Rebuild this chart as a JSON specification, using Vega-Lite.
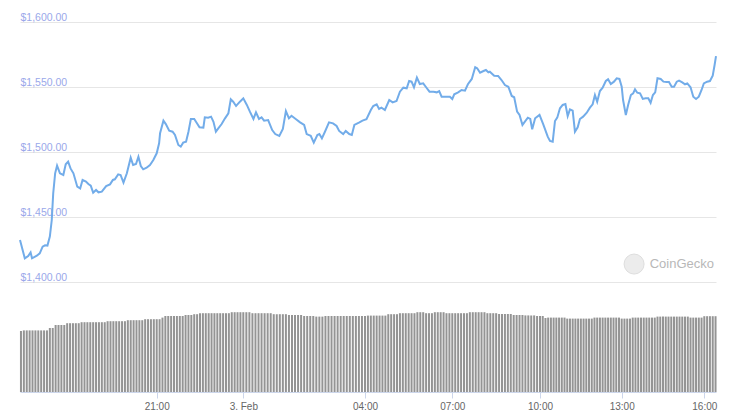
{
  "$schema": "https://vega.github.io/schema/vega-lite/v6.json",
  "width": 696,
  "height": 370,
  "autosize": "none",
  "padding": {"left": 20, "top": 22, "right": 21, "bottom": 27},
  "background": "white",
  "config": {"view": {"stroke": null}, "font": "Liberation Sans"},
  "datasets": {
    "vol": [
      {"t":"2021-02-02T16:18","v":30.5},{"t":"2021-02-02T16:24","v":30.8},{"t":"2021-02-02T16:30","v":30.8},{"t":"2021-02-02T16:36","v":30.8},{"t":"2021-02-02T16:42","v":30.8},{"t":"2021-02-02T16:48","v":30.8},{"t":"2021-02-02T16:54","v":30.8},
      {"t":"2021-02-02T17:00","v":30.8},{"t":"2021-02-02T17:06","v":30.8},{"t":"2021-02-02T17:12","v":30.8},{"t":"2021-02-02T17:18","v":32},{"t":"2021-02-02T17:24","v":32},{"t":"2021-02-02T17:30","v":33.5},{"t":"2021-02-02T17:36","v":33.5},{"t":"2021-02-02T17:42","v":33.5},{"t":"2021-02-02T17:48","v":33.5},{"t":"2021-02-02T17:54","v":34.4},
      {"t":"2021-02-02T18:00","v":34.4},{"t":"2021-02-02T18:06","v":34.4},{"t":"2021-02-02T18:12","v":34.4},{"t":"2021-02-02T18:18","v":34.4},{"t":"2021-02-02T18:24","v":34.9},{"t":"2021-02-02T18:30","v":34.9},{"t":"2021-02-02T18:36","v":34.9},{"t":"2021-02-02T18:42","v":34.9},{"t":"2021-02-02T18:48","v":34.9},{"t":"2021-02-02T18:54","v":34.9},
      {"t":"2021-02-02T19:00","v":34.9},{"t":"2021-02-02T19:06","v":34.9},{"t":"2021-02-02T19:12","v":34.9},{"t":"2021-02-02T19:18","v":35.4},{"t":"2021-02-02T19:24","v":35.4},{"t":"2021-02-02T19:30","v":35.4},{"t":"2021-02-02T19:36","v":35.4},{"t":"2021-02-02T19:42","v":35.4},{"t":"2021-02-02T19:48","v":35.4},{"t":"2021-02-02T19:54","v":35.4},
      {"t":"2021-02-02T20:00","v":35.9},{"t":"2021-02-02T20:06","v":35.9},{"t":"2021-02-02T20:12","v":35.9},{"t":"2021-02-02T20:18","v":35.9},{"t":"2021-02-02T20:24","v":35.9},{"t":"2021-02-02T20:30","v":35.9},{"t":"2021-02-02T20:36","v":36.4},{"t":"2021-02-02T20:42","v":36.4},{"t":"2021-02-02T20:48","v":36.4},{"t":"2021-02-02T20:54","v":36.4},
      {"t":"2021-02-02T21:00","v":36.4},{"t":"2021-02-02T21:06","v":36.4},{"t":"2021-02-02T21:12","v":37.2},{"t":"2021-02-02T21:18","v":38},{"t":"2021-02-02T21:24","v":38},{"t":"2021-02-02T21:30","v":38},{"t":"2021-02-02T21:36","v":38},{"t":"2021-02-02T21:42","v":38},{"t":"2021-02-02T21:48","v":38},{"t":"2021-02-02T21:54","v":38},
      {"t":"2021-02-02T22:00","v":38.5},{"t":"2021-02-02T22:06","v":38.5},{"t":"2021-02-02T22:12","v":38.5},{"t":"2021-02-02T22:18","v":38.9},{"t":"2021-02-02T22:24","v":38.9},{"t":"2021-02-02T22:30","v":39.4},{"t":"2021-02-02T22:36","v":39.4},{"t":"2021-02-02T22:42","v":39.4},{"t":"2021-02-02T22:48","v":39.4},{"t":"2021-02-02T22:54","v":39.4},
      {"t":"2021-02-02T23:00","v":39.4},{"t":"2021-02-02T23:06","v":39.4},{"t":"2021-02-02T23:12","v":39.4},{"t":"2021-02-02T23:18","v":39.4},{"t":"2021-02-02T23:24","v":39.4},{"t":"2021-02-02T23:30","v":39.4},{"t":"2021-02-02T23:36","v":39.9},{"t":"2021-02-02T23:42","v":39.9},{"t":"2021-02-02T23:48","v":39.9},{"t":"2021-02-02T23:54","v":39.9},
      {"t":"2021-02-03T00:00","v":39.9},{"t":"2021-02-03T00:06","v":39.9},{"t":"2021-02-03T00:12","v":39.9},{"t":"2021-02-03T00:18","v":39.4},{"t":"2021-02-03T00:24","v":39.4},{"t":"2021-02-03T00:30","v":39.4},{"t":"2021-02-03T00:36","v":39.4},{"t":"2021-02-03T00:42","v":39.4},{"t":"2021-02-03T00:48","v":39.4},{"t":"2021-02-03T00:54","v":39.4},
      {"t":"2021-02-03T01:00","v":38.9},{"t":"2021-02-03T01:06","v":38.9},{"t":"2021-02-03T01:12","v":38.9},{"t":"2021-02-03T01:18","v":38.9},{"t":"2021-02-03T01:24","v":38.9},{"t":"2021-02-03T01:30","v":38.5},{"t":"2021-02-03T01:36","v":38.5},{"t":"2021-02-03T01:42","v":38.5},{"t":"2021-02-03T01:48","v":38.5},{"t":"2021-02-03T01:54","v":38.5},
      {"t":"2021-02-03T02:00","v":38},{"t":"2021-02-03T02:06","v":38},{"t":"2021-02-03T02:12","v":38},{"t":"2021-02-03T02:18","v":38},{"t":"2021-02-03T02:24","v":37.7},{"t":"2021-02-03T02:30","v":37.7},{"t":"2021-02-03T02:36","v":37.7},{"t":"2021-02-03T02:42","v":38},{"t":"2021-02-03T02:48","v":38},{"t":"2021-02-03T02:54","v":38},
      {"t":"2021-02-03T03:00","v":38},{"t":"2021-02-03T03:06","v":38},{"t":"2021-02-03T03:12","v":38},{"t":"2021-02-03T03:18","v":38},{"t":"2021-02-03T03:24","v":38},{"t":"2021-02-03T03:30","v":38},{"t":"2021-02-03T03:36","v":38},{"t":"2021-02-03T03:42","v":38},{"t":"2021-02-03T03:48","v":38},{"t":"2021-02-03T03:54","v":38},
      {"t":"2021-02-03T04:00","v":38},{"t":"2021-02-03T04:06","v":38.2},{"t":"2021-02-03T04:12","v":38.2},{"t":"2021-02-03T04:18","v":38.2},{"t":"2021-02-03T04:24","v":38.2},{"t":"2021-02-03T04:30","v":38.2},{"t":"2021-02-03T04:36","v":38.2},{"t":"2021-02-03T04:42","v":38.2},{"t":"2021-02-03T04:48","v":38.9},{"t":"2021-02-03T04:54","v":38.9},
      {"t":"2021-02-03T05:00","v":38.9},{"t":"2021-02-03T05:06","v":38.9},{"t":"2021-02-03T05:12","v":39.4},{"t":"2021-02-03T05:18","v":39.4},{"t":"2021-02-03T05:24","v":39.4},{"t":"2021-02-03T05:30","v":39.4},{"t":"2021-02-03T05:36","v":39.4},{"t":"2021-02-03T05:42","v":39.4},{"t":"2021-02-03T05:48","v":39.9},{"t":"2021-02-03T05:54","v":39.9},
      {"t":"2021-02-03T06:00","v":39.9},{"t":"2021-02-03T06:06","v":39.4},{"t":"2021-02-03T06:12","v":39.4},{"t":"2021-02-03T06:18","v":39.4},{"t":"2021-02-03T06:24","v":39.9},{"t":"2021-02-03T06:30","v":39.9},{"t":"2021-02-03T06:36","v":39.9},{"t":"2021-02-03T06:42","v":39.9},{"t":"2021-02-03T06:48","v":39.4},{"t":"2021-02-03T06:54","v":39.4},
      {"t":"2021-02-03T07:00","v":39.4},{"t":"2021-02-03T07:06","v":39.4},{"t":"2021-02-03T07:12","v":39.4},{"t":"2021-02-03T07:18","v":39.4},{"t":"2021-02-03T07:24","v":39.4},{"t":"2021-02-03T07:30","v":39.4},{"t":"2021-02-03T07:36","v":39.9},{"t":"2021-02-03T07:42","v":39.9},{"t":"2021-02-03T07:48","v":39.9},{"t":"2021-02-03T07:54","v":39.9},
      {"t":"2021-02-03T08:00","v":39.9},{"t":"2021-02-03T08:06","v":39.9},{"t":"2021-02-03T08:12","v":39.4},{"t":"2021-02-03T08:18","v":39.4},{"t":"2021-02-03T08:24","v":39.4},{"t":"2021-02-03T08:30","v":39.4},{"t":"2021-02-03T08:36","v":39},{"t":"2021-02-03T08:42","v":39},{"t":"2021-02-03T08:48","v":39},{"t":"2021-02-03T08:54","v":39},
      {"t":"2021-02-03T09:00","v":39},{"t":"2021-02-03T09:06","v":38.5},{"t":"2021-02-03T09:12","v":38.5},{"t":"2021-02-03T09:18","v":38.5},{"t":"2021-02-03T09:24","v":38.5},{"t":"2021-02-03T09:30","v":38.3},{"t":"2021-02-03T09:36","v":38.3},{"t":"2021-02-03T09:42","v":38.3},{"t":"2021-02-03T09:48","v":38.3},{"t":"2021-02-03T09:54","v":38},
      {"t":"2021-02-03T10:00","v":38},{"t":"2021-02-03T10:06","v":38},{"t":"2021-02-03T10:12","v":37},{"t":"2021-02-03T10:18","v":37.2},{"t":"2021-02-03T10:24","v":37.2},{"t":"2021-02-03T10:30","v":37.2},{"t":"2021-02-03T10:36","v":37.2},{"t":"2021-02-03T10:42","v":37.2},{"t":"2021-02-03T10:48","v":37.2},{"t":"2021-02-03T10:54","v":37.2},
      {"t":"2021-02-03T11:00","v":36.7},{"t":"2021-02-03T11:06","v":36.7},{"t":"2021-02-03T11:12","v":36.7},{"t":"2021-02-03T11:18","v":36.7},{"t":"2021-02-03T11:24","v":36.7},{"t":"2021-02-03T11:30","v":36.7},{"t":"2021-02-03T11:36","v":36.7},{"t":"2021-02-03T11:42","v":36.7},{"t":"2021-02-03T11:48","v":36.7},{"t":"2021-02-03T11:54","v":36.7},
      {"t":"2021-02-03T12:00","v":37.2},{"t":"2021-02-03T12:06","v":37.2},{"t":"2021-02-03T12:12","v":37.2},{"t":"2021-02-03T12:18","v":37.2},{"t":"2021-02-03T12:24","v":37.2},{"t":"2021-02-03T12:30","v":37.2},{"t":"2021-02-03T12:36","v":37.2},{"t":"2021-02-03T12:42","v":37.2},{"t":"2021-02-03T12:48","v":37.2},{"t":"2021-02-03T12:54","v":37.2},
      {"t":"2021-02-03T13:00","v":36.7},{"t":"2021-02-03T13:06","v":36.7},{"t":"2021-02-03T13:12","v":36.7},{"t":"2021-02-03T13:18","v":36.7},{"t":"2021-02-03T13:24","v":37.2},{"t":"2021-02-03T13:30","v":37.2},{"t":"2021-02-03T13:36","v":37.2},{"t":"2021-02-03T13:42","v":37.2},{"t":"2021-02-03T13:48","v":37.2},{"t":"2021-02-03T13:54","v":37.2},
      {"t":"2021-02-03T14:00","v":37.2},{"t":"2021-02-03T14:06","v":37.2},{"t":"2021-02-03T14:12","v":37.2},{"t":"2021-02-03T14:18","v":37.7},{"t":"2021-02-03T14:24","v":37.7},{"t":"2021-02-03T14:30","v":37.7},{"t":"2021-02-03T14:36","v":37.7},{"t":"2021-02-03T14:42","v":37.7},{"t":"2021-02-03T14:48","v":37.7},{"t":"2021-02-03T14:54","v":37.7},
      {"t":"2021-02-03T15:00","v":37.7},{"t":"2021-02-03T15:06","v":37.7},{"t":"2021-02-03T15:12","v":37.7},{"t":"2021-02-03T15:18","v":37.7},{"t":"2021-02-03T15:24","v":37.7},{"t":"2021-02-03T15:30","v":37.2},{"t":"2021-02-03T15:36","v":37.2},{"t":"2021-02-03T15:42","v":37.2},{"t":"2021-02-03T15:48","v":37.2},{"t":"2021-02-03T15:54","v":37.2},
      {"t":"2021-02-03T16:00","v":37.9},{"t":"2021-02-03T16:06","v":37.9},{"t":"2021-02-03T16:12","v":37.9},{"t":"2021-02-03T16:18","v":37.9},{"t":"2021-02-03T16:24","v":37.9}
    ],
    "price": [
      {"t":"2021-02-02T16:16","p":1432.3},{"t":"2021-02-02T16:26","p":1418.2},{"t":"2021-02-02T16:33","p":1420.0},{"t":"2021-02-02T16:38","p":1422.8},{"t":"2021-02-02T16:41","p":1418.2},{"t":"2021-02-02T16:51","p":1420.2},{"t":"2021-02-02T16:57","p":1422.0},
      {"t":"2021-02-02T17:03","p":1427.2},{"t":"2021-02-02T17:08","p":1428.2},{"t":"2021-02-02T17:13","p":1428.0},{"t":"2021-02-02T17:18","p":1434.9},{"t":"2021-02-02T17:22","p":1447.7},{"t":"2021-02-02T17:25","p":1468.2},{"t":"2021-02-02T17:29","p":1483.6},{"t":"2021-02-02T17:33","p":1489.5},{"t":"2021-02-02T17:39","p":1483.6},{"t":"2021-02-02T17:46","p":1482.3},{"t":"2021-02-02T17:51","p":1490.5},{"t":"2021-02-02T17:56","p":1492.5},
      {"t":"2021-02-02T18:01","p":1487.4},{"t":"2021-02-02T18:07","p":1483.6},{"t":"2021-02-02T18:15","p":1473.3},{"t":"2021-02-02T18:21","p":1472.0},{"t":"2021-02-02T18:26","p":1478.5},{"t":"2021-02-02T18:33","p":1477.2},{"t":"2021-02-02T18:38","p":1475.4},{"t":"2021-02-02T18:43","p":1474.1},{"t":"2021-02-02T18:48","p":1468.7},{"t":"2021-02-02T18:54","p":1470.8},{"t":"2021-02-02T18:59","p":1469.0},
      {"t":"2021-02-02T19:06","p":1469.5},{"t":"2021-02-02T19:15","p":1473.8},{"t":"2021-02-02T19:23","p":1475.1},{"t":"2021-02-02T19:29","p":1478.5},{"t":"2021-02-02T19:33","p":1479.0},{"t":"2021-02-02T19:40","p":1482.8},{"t":"2021-02-02T19:45","p":1482.3},{"t":"2021-02-02T19:51","p":1476.4},{"t":"2021-02-02T19:58","p":1483.6},
      {"t":"2021-02-02T20:06","p":1495.6},{"t":"2021-02-02T20:11","p":1490.0},{"t":"2021-02-02T20:17","p":1490.8},{"t":"2021-02-02T20:22","p":1496.4},{"t":"2021-02-02T20:27","p":1489.2},{"t":"2021-02-02T20:32","p":1486.7},{"t":"2021-02-02T20:39","p":1487.9},{"t":"2021-02-02T20:46","p":1490.0},{"t":"2021-02-02T20:53","p":1493.8},
      {"t":"2021-02-02T21:00","p":1499.0},{"t":"2021-02-02T21:05","p":1506.7},{"t":"2021-02-02T21:07","p":1514.4},{"t":"2021-02-02T21:14","p":1524.1},{"t":"2021-02-02T21:19","p":1521.5},{"t":"2021-02-02T21:26","p":1516.4},{"t":"2021-02-02T21:33","p":1515.6},{"t":"2021-02-02T21:38","p":1513.1},{"t":"2021-02-02T21:45","p":1505.4},{"t":"2021-02-02T21:50","p":1504.1},{"t":"2021-02-02T21:55","p":1507.2},
      {"t":"2021-02-02T22:01","p":1507.9},{"t":"2021-02-02T22:06","p":1515.6},{"t":"2021-02-02T22:11","p":1525.4},{"t":"2021-02-02T22:18","p":1525.4},{"t":"2021-02-02T22:23","p":1522.5},{"t":"2021-02-02T22:29","p":1519.0},{"t":"2021-02-02T22:37","p":1518.7},{"t":"2021-02-02T22:40","p":1526.7},{"t":"2021-02-02T22:47","p":1526.4},{"t":"2021-02-02T22:53","p":1527.2},{"t":"2021-02-02T22:58","p":1523.3},
      {"t":"2021-02-02T23:03","p":1515.6},{"t":"2021-02-02T23:08","p":1518.2},{"t":"2021-02-02T23:15","p":1521.5},{"t":"2021-02-02T23:22","p":1525.9},{"t":"2021-02-02T23:29","p":1529.8},{"t":"2021-02-02T23:34","p":1540.5},{"t":"2021-02-02T23:39","p":1538.7},{"t":"2021-02-02T23:45","p":1535.4},{"t":"2021-02-02T23:53","p":1538.7},
      {"t":"2021-02-03T00:00","p":1541.3},{"t":"2021-02-03T00:07","p":1536.2},{"t":"2021-02-03T00:13","p":1531.0},{"t":"2021-02-03T00:20","p":1525.4},{"t":"2021-02-03T00:25","p":1530.5},{"t":"2021-02-03T00:31","p":1525.4},{"t":"2021-02-03T00:36","p":1526.7},{"t":"2021-02-03T00:41","p":1524.1},{"t":"2021-02-03T00:49","p":1524.6},{"t":"2021-02-03T00:57","p":1516.9},
      {"t":"2021-02-03T01:03","p":1513.8},{"t":"2021-02-03T01:11","p":1512.3},{"t":"2021-02-03T01:18","p":1517.7},{"t":"2021-02-03T01:24","p":1531.5},{"t":"2021-02-03T01:30","p":1525.9},{"t":"2021-02-03T01:35","p":1527.9},{"t":"2021-02-03T01:44","p":1525.2},{"t":"2021-02-03T01:52","p":1522.8},
      {"t":"2021-02-03T02:00","p":1520.8},{"t":"2021-02-03T02:05","p":1513.8},{"t":"2021-02-03T02:13","p":1512.5},{"t":"2021-02-03T02:19","p":1507.2},{"t":"2021-02-03T02:26","p":1513.1},{"t":"2021-02-03T02:30","p":1513.8},{"t":"2021-02-03T02:35","p":1510.5},{"t":"2021-02-03T02:41","p":1515.6},{"t":"2021-02-03T02:49","p":1522.8},{"t":"2021-02-03T02:57","p":1522.0},
      {"t":"2021-02-03T03:04","p":1520.0},{"t":"2021-02-03T03:09","p":1516.2},{"t":"2021-02-03T03:17","p":1513.8},{"t":"2021-02-03T03:22","p":1516.2},{"t":"2021-02-03T03:29","p":1513.8},{"t":"2021-02-03T03:34","p":1513.1},{"t":"2021-02-03T03:39","p":1520.8},{"t":"2021-02-03T03:49","p":1522.8},{"t":"2021-02-03T03:55","p":1524.1},
      {"t":"2021-02-03T04:03","p":1525.2},{"t":"2021-02-03T04:12","p":1532.3},{"t":"2021-02-03T04:17","p":1535.4},{"t":"2021-02-03T04:24","p":1536.7},{"t":"2021-02-03T04:29","p":1533.1},{"t":"2021-02-03T04:34","p":1534.1},{"t":"2021-02-03T04:41","p":1532.3},{"t":"2021-02-03T04:50","p":1540.0},{"t":"2021-02-03T04:57","p":1538.2},
      {"t":"2021-02-03T05:05","p":1539.2},{"t":"2021-02-03T05:12","p":1546.4},{"t":"2021-02-03T05:19","p":1549.5},{"t":"2021-02-03T05:26","p":1549.0},{"t":"2021-02-03T05:31","p":1554.6},{"t":"2021-02-03T05:36","p":1554.1},{"t":"2021-02-03T05:41","p":1549.8},{"t":"2021-02-03T05:47","p":1557.2},{"t":"2021-02-03T05:53","p":1552.3},
      {"t":"2021-02-03T06:00","p":1552.8},{"t":"2021-02-03T06:06","p":1549.8},{"t":"2021-02-03T06:13","p":1546.4},{"t":"2021-02-03T06:21","p":1546.4},{"t":"2021-02-03T06:28","p":1545.9},{"t":"2021-02-03T06:33","p":1546.9},{"t":"2021-02-03T06:38","p":1542.5},{"t":"2021-02-03T06:48","p":1542.5},{"t":"2021-02-03T06:55","p":1542.5},
      {"t":"2021-02-03T07:00","p":1540.8},{"t":"2021-02-03T07:04","p":1544.4},{"t":"2021-02-03T07:12","p":1545.9},{"t":"2021-02-03T07:19","p":1547.7},{"t":"2021-02-03T07:26","p":1547.2},{"t":"2021-02-03T07:32","p":1552.1},{"t":"2021-02-03T07:40","p":1556.2},{"t":"2021-02-03T07:47","p":1565.2},{"t":"2021-02-03T07:51","p":1564.4},{"t":"2021-02-03T07:57","p":1561.0},
      {"t":"2021-02-03T08:04","p":1562.3},{"t":"2021-02-03T08:09","p":1563.1},{"t":"2021-02-03T08:14","p":1561.3},{"t":"2021-02-03T08:17","p":1561.8},{"t":"2021-02-03T08:26","p":1558.7},{"t":"2021-02-03T08:34","p":1558.5},{"t":"2021-02-03T08:41","p":1555.4},{"t":"2021-02-03T08:48","p":1551.5},{"t":"2021-02-03T08:55","p":1550.2},
      {"t":"2021-02-03T09:02","p":1543.1},{"t":"2021-02-03T09:07","p":1542.1},{"t":"2021-02-03T09:13","p":1531.0},{"t":"2021-02-03T09:18","p":1528.5},{"t":"2021-02-03T09:24","p":1520.8},{"t":"2021-02-03T09:29","p":1523.3},{"t":"2021-02-03T09:35","p":1526.4},{"t":"2021-02-03T09:40","p":1525.4},{"t":"2021-02-03T09:44","p":1517.5},{"t":"2021-02-03T09:50","p":1525.9},{"t":"2021-02-03T09:59","p":1528.5},
      {"t":"2021-02-03T10:07","p":1521.5},{"t":"2021-02-03T10:17","p":1511.8},{"t":"2021-02-03T10:22","p":1508.5},{"t":"2021-02-03T10:28","p":1507.9},{"t":"2021-02-03T10:33","p":1523.8},{"t":"2021-02-03T10:38","p":1526.4},{"t":"2021-02-03T10:44","p":1533.6},{"t":"2021-02-03T10:50","p":1536.2},{"t":"2021-02-03T10:56","p":1536.9},
      {"t":"2021-02-03T11:01","p":1527.7},{"t":"2021-02-03T11:06","p":1532.8},{"t":"2021-02-03T11:12","p":1531.8},{"t":"2021-02-03T11:17","p":1515.6},{"t":"2021-02-03T11:23","p":1519.0},{"t":"2021-02-03T11:28","p":1525.4},{"t":"2021-02-03T11:35","p":1527.2},{"t":"2021-02-03T11:43","p":1530.2},{"t":"2021-02-03T11:50","p":1534.1},{"t":"2021-02-03T11:56","p":1536.7},
      {"t":"2021-02-03T12:01","p":1543.8},{"t":"2021-02-03T12:06","p":1538.7},{"t":"2021-02-03T12:12","p":1546.9},{"t":"2021-02-03T12:18","p":1549.5},{"t":"2021-02-03T12:25","p":1554.6},{"t":"2021-02-03T12:30","p":1555.9},{"t":"2021-02-03T12:36","p":1552.3},{"t":"2021-02-03T12:43","p":1554.1},{"t":"2021-02-03T12:49","p":1556.7},{"t":"2021-02-03T12:55","p":1556.2},
      {"t":"2021-02-03T13:00","p":1550.2},{"t":"2021-02-03T13:03","p":1540.0},{"t":"2021-02-03T13:09","p":1528.5},{"t":"2021-02-03T13:14","p":1536.2},{"t":"2021-02-03T13:20","p":1543.8},{"t":"2021-02-03T13:25","p":1545.1},{"t":"2021-02-03T13:29","p":1548.2},{"t":"2021-02-03T13:34","p":1545.6},{"t":"2021-02-03T13:40","p":1545.1},{"t":"2021-02-03T13:46","p":1540.8},{"t":"2021-02-03T13:52","p":1541.3},{"t":"2021-02-03T13:58","p":1541.3},
      {"t":"2021-02-03T14:03","p":1537.9},{"t":"2021-02-03T14:08","p":1543.8},{"t":"2021-02-03T14:13","p":1545.9},{"t":"2021-02-03T14:18","p":1556.7},{"t":"2021-02-03T14:25","p":1556.2},{"t":"2021-02-03T14:31","p":1554.1},{"t":"2021-02-03T14:38","p":1553.8},{"t":"2021-02-03T14:43","p":1553.8},{"t":"2021-02-03T14:49","p":1550.2},{"t":"2021-02-03T14:54","p":1550.2},
      {"t":"2021-02-03T15:00","p":1554.1},{"t":"2021-02-03T15:05","p":1554.9},{"t":"2021-02-03T15:12","p":1553.6},{"t":"2021-02-03T15:18","p":1552.1},{"t":"2021-02-03T15:23","p":1552.8},{"t":"2021-02-03T15:30","p":1549.8},{"t":"2021-02-03T15:36","p":1542.5},{"t":"2021-02-03T15:42","p":1540.8},{"t":"2021-02-03T15:48","p":1542.5},{"t":"2021-02-03T15:54","p":1547.7},{"t":"2021-02-03T15:59","p":1552.8},
      {"t":"2021-02-03T16:06","p":1554.1},{"t":"2021-02-03T16:12","p":1554.6},{"t":"2021-02-03T16:18","p":1558.7},{"t":"2021-02-03T16:22","p":1566.9},{"t":"2021-02-03T16:25","p":1573.8}
    ],
    "wmc": [
      {"t":"2021-02-03T13:27","p":1413.8}
    ],
    "wmt": [
      {"t":"2021-02-03T14:01","p":1413.8,"label":"CoinGecko"}
    ]
  },
  "layer": [
    {
      "data": {"name": "vol", "format": {"parse": {"t": "utc:'%Y-%m-%dT%H:%M'"}}},
      "mark": {"type": "bar", "size": 2, "color": "#949494", "orient": "vertical"},
      "encoding": {
        "x": {
          "field": "t", "type": "quantitative",
          "scale": {
            "domain": [1612282560000, 1612299600000, 1612310400000, 1612324800000, 1612335600000, 1612346400000, 1612357200000, 1612368000000, 1612369500000],
            "range": [0, 136.7, 223.3, 345, 432.3, 520, 601.7, 684.3, 696],
            "nice": false, "zero": false, "padding": 0
          },
          "axis": {
            "values": [1612299600000, 1612310400000, 1612324800000, 1612335600000, 1612346400000, 1612357200000, 1612368000000],
            "labelExpr": "utchours(datum.value) == 0 ? utcdate(datum.value) + '. ' + utcFormat(datum.value, '%b') : utcFormat(datum.value, '%H:%M')",
            "title": null,
            "grid": false,
            "domainColor": "#ccd6eb",
            "tickColor": "#ccd6eb",
            "tickSize": 6,
            "labelPadding": 3,
            "labelColor": "#666666",
            "labelFontSize": 10,
            "labelFont": "Liberation Sans",
            "labelFlush": false,
            "labelOverlap": false
          }
        },
        "y": {
          "field": "v", "type": "quantitative",
          "scale": {"domain": [0, 50], "range": [370, 270], "nice": false, "zero": true},
          "axis": null
        }
      }
    },
    {
      "data": {"name": "price", "format": {"parse": {"t": "utc:'%Y-%m-%dT%H:%M'"}}},
      "mark": {"type": "line", "color": "#72ace9", "strokeWidth": 2, "interpolate": "linear"},
      "encoding": {
        "x": {
          "field": "t", "type": "quantitative",
          "scale": {
            "domain": [1612282560000, 1612299600000, 1612310400000, 1612324800000, 1612335600000, 1612346400000, 1612357200000, 1612368000000, 1612369500000],
            "range": [0, 136.7, 223.3, 345, 432.3, 520, 601.7, 684.3, 696],
            "nice": false, "zero": false, "padding": 0
          }
        },
        "y": {
          "field": "p", "type": "quantitative",
          "scale": {"domain": [1400, 1600], "range": [260, 0], "nice": false, "zero": false},
          "axis": {
            "values": [1400, 1450, 1500, 1550, 1600],
            "format": "$,.2f",
            "title": null,
            "orient": "left",
            "ticks": false,
            "domain": false,
            "grid": true,
            "gridColor": "#e6e6e6",
            "gridWidth": 1,
            "labelAlign": "left",
            "labelBaseline": "alphabetic",
            "labelPadding": 0,
            "labelOffset": -2,
            "labelColor": "#9aa8ea",
            "labelFontSize": 10.5,
            "labelFont": "Liberation Sans",
            "labelFlush": false,
            "labelOverlap": false
          }
        }
      }
    },
    {
      "data": {"name": "wmc", "format": {"parse": {"t": "utc:'%Y-%m-%dT%H:%M'"}}},
      "mark": {"type": "circle", "size": 400, "color": "#ececec", "opacity": 1, "stroke": "#dedede", "strokeWidth": 1},
      "encoding": {
        "x": {"field": "t", "type": "quantitative", "scale": {
            "domain": [1612282560000, 1612299600000, 1612310400000, 1612324800000, 1612335600000, 1612346400000, 1612357200000, 1612368000000, 1612369500000],
            "range": [0, 136.7, 223.3, 345, 432.3, 520, 601.7, 684.3, 696],
            "nice": false, "zero": false, "padding": 0}},
        "y": {"field": "p", "type": "quantitative", "scale": {"domain": [1400, 1600], "range": [260, 0], "nice": false, "zero": false}, "axis": null}
      }
    },
    {
      "data": {"name": "wmt", "format": {"parse": {"t": "utc:'%Y-%m-%dT%H:%M'"}}},
      "mark": {"type": "text", "align": "left", "baseline": "middle", "fontSize": 13, "color": "#b8b8b8", "font": "Liberation Sans"},
      "encoding": {
        "x": {"field": "t", "type": "quantitative", "scale": {
            "domain": [1612282560000, 1612299600000, 1612310400000, 1612324800000, 1612335600000, 1612346400000, 1612357200000, 1612368000000, 1612369500000],
            "range": [0, 136.7, 223.3, 345, 432.3, 520, 601.7, 684.3, 696],
            "nice": false, "zero": false, "padding": 0}},
        "y": {"field": "p", "type": "quantitative", "scale": {"domain": [1400, 1600], "range": [260, 0], "nice": false, "zero": false}, "axis": null},
        "text": {"field": "label"}
      }
    }
  ],
  "resolve": {"scale": {"y": "independent"}, "axis": {"y": "independent"}}
}
